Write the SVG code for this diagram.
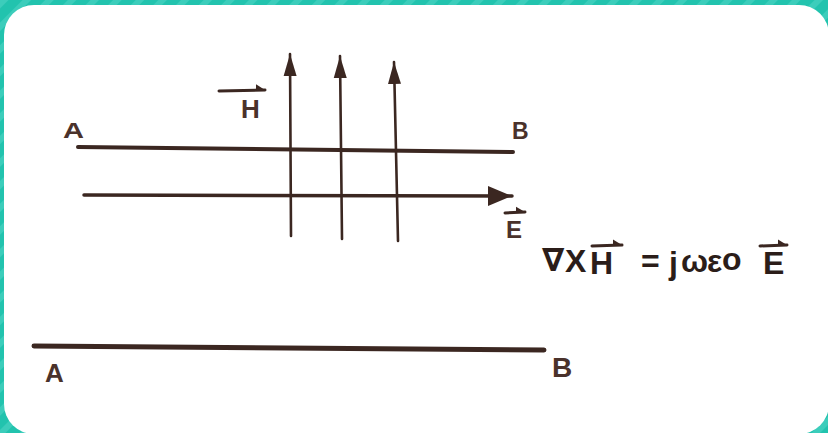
<svg xmlns="http://www.w3.org/2000/svg" width="828" height="433" viewBox="0 0 828 433">
<defs>
<pattern id="stripes" patternUnits="userSpaceOnUse" width="16" height="16" patternTransform="rotate(45)">
<rect width="16" height="16" fill="#22c3ae"/>
<rect width="6" height="16" fill="#3ccdbb"/>
</pattern>
<marker id="tipV" markerUnits="userSpaceOnUse" markerWidth="24" markerHeight="16" refX="22" refY="7" orient="auto" viewBox="0 0 24 14">
<path d="M0,0.5 L22,7 L0,13.5 Z" fill="#3b2721"/>
</marker>
<marker id="tipE" markerUnits="userSpaceOnUse" markerWidth="26" markerHeight="24" refX="24" refY="11" orient="auto" viewBox="0 0 26 22">
<path d="M0,1 L24,11 L0,21 Z" fill="#3b2721"/>
</marker>
<marker id="vec" markerUnits="userSpaceOnUse" markerWidth="10" markerHeight="8" refX="9" refY="6" orient="auto" viewBox="0 0 10 8">
<path d="M0,0 L9,6 L0,6 Z" fill="#3b2721"/>
</marker>
</defs>
<style>
.ln{stroke:#3b2721;fill:none;stroke-linecap:round}
.lbl{font-family:"Liberation Sans",Arial,sans-serif;font-weight:bold;fill:#4a322b}
.eq{font-family:"Liberation Sans","DejaVu Sans",Arial,sans-serif;font-weight:bold;fill:#2b1d19;font-size:32px}
.vec{stroke:#3b2721;stroke-width:3;fill:none;stroke-linecap:round}
</style>
<rect width="828" height="433" fill="url(#stripes)"/>
<rect x="4" y="5" width="825" height="429" rx="30" ry="30" fill="#ffffff"/>

<g id="connectors">
<path id="lineAB-top" class="ln" stroke-width="4" d="M78,147 L513,152"/>
<path id="E-arrow" class="ln" stroke-width="3.5" d="M84,195 L512,196" marker-end="url(#tipE)"/>
<path id="H1" class="ln" stroke-width="2.6" d="M291,236 L290,54" marker-end="url(#tipV)"/>
<path id="H2" class="ln" stroke-width="2.6" d="M342,239 L340,56" marker-end="url(#tipV)"/>
<path id="H3" class="ln" stroke-width="2.6" d="M398,241 L394,62" marker-end="url(#tipV)"/>
<path id="lineAB-bottom" class="ln" stroke-width="5" d="M34,346 L544,350"/>
</g>

<g id="label-A-top"><text class="lbl" x="63" y="138" font-size="22" textLength="21" lengthAdjust="spacingAndGlyphs">A</text></g>
<g id="label-B-top"><text class="lbl" x="512" y="139" font-size="23">B</text></g>
<g id="label-H">
<path class="vec" d="M219,91 L265,90" marker-end="url(#vec)"/>
<text class="lbl" x="241" y="118" font-size="26">H</text>
</g>
<g id="label-E">
<path class="vec" d="M505,213 L525,212" marker-end="url(#vec)"/>
<text class="lbl" x="506" y="238" font-size="24">E</text>
</g>
<g id="equation">
<text class="eq" x="542" y="271" font-size="23">∇</text>
<text class="eq" x="565" y="272" font-size="28">X</text>
<path class="vec" d="M592,246 L622,245" marker-end="url(#vec)"/>
<text class="eq" x="590" y="274">H</text>
<text class="eq" x="641" y="272" font-size="28">=</text>
<text class="eq" x="669" y="274">j</text>
<text class="eq" x="681" y="272">ω</text>
<text class="eq" x="707" y="272">ε</text>
<text class="eq" x="722" y="270" font-size="18">o</text>
<path class="vec" d="M760,246 L787,245" marker-end="url(#vec)"/>
<text class="eq" x="763" y="274">E</text>
</g>
<g id="label-A-bottom"><text class="lbl" x="45" y="382" font-size="26">A</text></g>
<g id="label-B-bottom"><text class="lbl" x="552" y="377" font-size="28">B</text></g>
</svg>
